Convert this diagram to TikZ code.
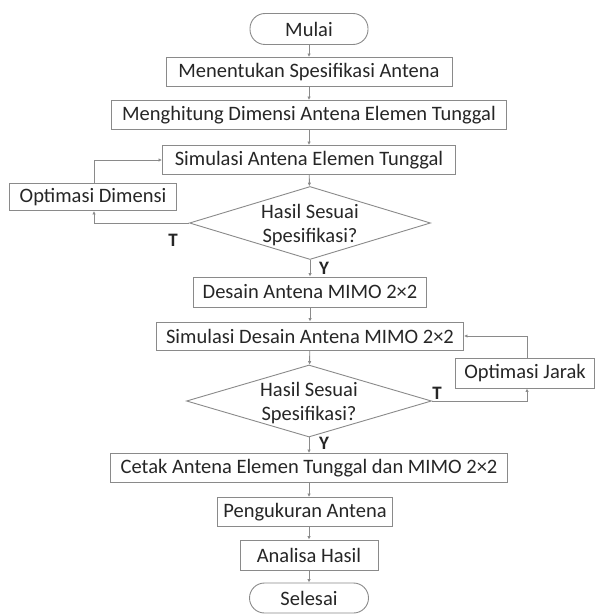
\documentclass[tikz,border=0pt]{standalone}
\usepackage{fontspec}
\setmainfont{Carlito}
\usetikzlibrary{shapes.geometric,arrows.meta}
\definecolor{txt}{HTML}{262626}
\definecolor{edge}{HTML}{8A8A8A}
\begin{document}
\begin{tikzpicture}[x=1pt,y=-1pt,
  every node/.style={font=\fontsize{20.5}{24}\selectfont,text=txt},
  procbox/.style={draw=edge,line width=0.9pt,minimum height=29pt,inner sep=0pt,anchor=center},
  termbox/.style={procbox,rounded corners=15pt,minimum height=31pt},
  decbox/.style={draw=edge,line width=0.9pt,shape=diamond,inner sep=0pt},
  flow/.style={draw=edge,line width=0.9pt,-{Latex[length=3.5pt,width=3.5pt]}},
  lbl/.style={font=\fontsize{19}{22}\selectfont\bfseries}]
\useasboundingbox (0,0) rectangle (595,615);
\fill[white] (0,0) rectangle (595,615);
\node[termbox,minimum width=118pt] (mulai) at (309,29) {Mulai};
\node[procbox,minimum width=286pt] (spes) at (309,72) {Menentukan Spesifikasi Antena};
\node[procbox,minimum width=395pt] (hitung) at (309,115) {Menghitung Dimensi Antena Elemen Tunggal};
\node[procbox,minimum width=293pt] (sim1) at (309,160) {Simulasi Antena Elemen Tunggal};
\node[procbox,minimum width=167pt,minimum height=27pt] (optd) at (93,197) {Optimasi Dimensi};
\node[decbox,minimum width=241pt,minimum height=73pt] (d1) at (310,223) {};
\node[align=center] (d1t) at (310,225) {Hasil Sesuai\\Spesifikasi?};
\node[procbox,minimum width=233pt,minimum height=30pt] (desain) at (310,292) {Desain Antena MIMO 2×2};
\node[procbox,minimum width=307pt,minimum height=28pt] (sim2) at (310,336) {Simulasi Desain Antena MIMO 2×2};
\node[decbox,minimum width=245pt,minimum height=72pt] (d2) at (309,401) {};
\node[align=center] (d2t) at (309,403) {Hasil Sesuai\\Spesifikasi?};
\node[procbox,minimum width=139pt,minimum height=30pt] (optj) at (525,373) {Optimasi Jarak};
\node[procbox,minimum width=397pt] (cetak) at (309,468) {Cetak Antena Elemen Tunggal dan MIMO 2×2};
\node[procbox,minimum width=175pt] (ukur) at (305,512) {Pengukuran Antena};
\node[procbox,minimum width=138pt,minimum height=30pt] (anal) at (309,555) {Analisa Hasil};
\node[termbox,minimum width=119pt,minimum height=30pt] (selesai) at (309,598) {Selesai};
\coordinate (l1b) at (94,223);
\coordinate (l1t) at (94,160);
\coordinate (l2b) at (527,401);
\coordinate (l2t) at (527,336);
\draw[flow] (mulai) -- (spes);
\draw[flow] (spes) -- (hitung);
\draw[flow] (hitung) -- (sim1);
\draw[flow] (sim1) -- (d1);
\draw[flow] (d1) -- (desain);
\draw[flow] (desain) -- (sim2);
\draw[flow] (sim2) -- (d2);
\draw[flow] (d2) -- (cetak);
\draw[flow] (cetak) -- (ukur.north -| cetak.south);
\draw[flow] (ukur.south -| anal.north) -- (anal);
\draw[flow] (anal) -- (selesai);
\draw[flow] (d1.west) -- (l1b) -- (optd.south -| l1b);
\draw[flow] (optd.north -| l1t) -- (l1t) -- (sim1.west);
\draw[flow] (d2.east) -- (l2b) -- (optj.south -| l2b);
\draw[flow] (optj.north -| l2t) -- (l2t) -- (sim2.east);
\node[lbl] (t1) at (173,240) {T};
\node[lbl] (y1) at (324,268) {Y};
\node[lbl] (t2) at (437,393) {T};
\node[lbl] (y2) at (324,443) {Y};
\end{tikzpicture}
\end{document}
